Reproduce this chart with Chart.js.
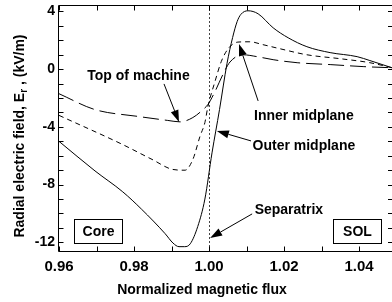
<!DOCTYPE html>
<html>
<head>
<meta charset="utf-8">
<script src="https://cdn.jsdelivr.net/npm/chart.js@4.4.0/dist/chart.umd.min.js"></script>
<style>
  html, body { margin: 0; padding: 0; background: #fff; }
  #wrap { width: 392px; height: 302px; }
</style>
</head>
<body>
<div id="wrap"><canvas id="chart" width="392" height="302"></canvas></div>
<script>
// Normalized magnetic flux vs radial electric field (kV/m)
const outerX = [0.960, 0.9696, 0.977, 0.982, 0.9883, 0.9904, 0.992, 0.9935, 0.995, 0.997, 0.9989, 1.0008, 1.0028, 1.0048, 1.0063, 1.0075, 1.0085, 1.0104, 1.0131, 1.0171, 1.0211, 1.0261, 1.0323, 1.0395, 1.0429, 1.0488];
const outerY = [-5.0, -7.05, -8.5, -9.7, -11.4, -12.05, -12.3, -12.3, -12.1, -10.9, -9.0, -5.8, -2.8, 0.4, 2.2, 3.3, 3.8, 4.05, 3.84, 2.87, 2.18, 1.56, 1.15, 0.87, 0.6, 0.1];

const innerX = [0.960, 0.9768, 0.9848, 0.9904, 0.9936, 0.9957, 0.9976, 0.9989, 0.9997, 1.0016, 1.0033, 1.0052, 1.0077, 1.0109, 1.0144, 1.0189, 1.0261, 1.0349, 1.0429, 1.0488];
const innerY = [-3.2, -5.2, -6.25, -6.95, -7.0, -6.25, -4.65, -3.7, -2.6, -0.85, 0.55, 1.45, 1.88, 1.9, 1.7, 1.42, 1.0, 0.73, 0.45, 0.1];

const topX = [0.960, 0.9696, 0.981, 0.989, 0.9923, 0.9957, 0.9984, 0.9997, 1.0016, 1.0037, 1.0056, 1.0091, 1.0128, 1.0171, 1.0235, 1.0323, 1.0411, 1.0488];
const topY = [-1.7, -2.8, -3.27, -3.55, -3.65, -3.35, -2.8, -2.45, -1.55, -0.37, 0.5, 1.0, 0.87, 0.66, 0.45, 0.32, 0.18, 0.1];

const xTickLabels = [0.96, 0.98, 1.00, 1.02, 1.04];
const yTickLabels = [-12, -8, -4, 0, 4];
const separatrix = 1.00;

// callouts: text, text position, arrow tail, arrow head (data units)
const calloutText = ["Top of machine", "Inner midplane", "Outer midplane", "Separatrix"];
const calloutPos  = [[0.9812, -0.5], [1.0253, -3.28], [1.0253, -5.32], [1.0213, -9.76]];
const arrowFrom   = [[0.988, -1.02], [1.0131, -2.2], [1.0112, -4.97], [1.0115, -10.03]];
const arrowTo     = [[0.992, -3.66], [1.008, 1.75], [1.0021, -4.28], [1.0003, -11.7]];

const boxText = ["Core", "SOL"];
const boxRange = [[0.964, 0.9768, -10.38, -12.04], [1.0331, 1.0459, -10.38, -12.04]];

const FONT = "'Liberation Sans', Arial, Helvetica, sans-serif";

const pts = (xs, ys) => xs.map((x, i) => ({ x: x, y: ys[i] }));

function drawArrow(ctx, x1, y1, x2, y2) {
  const a = Math.atan2(y2 - y1, x2 - x1);
  const len = 12, half = 4;
  const c = Math.cos(a), s = Math.sin(a);
  ctx.beginPath();
  ctx.moveTo(x1, y1);
  ctx.lineTo(x2 - c * len, y2 - s * len);
  ctx.stroke();
  ctx.beginPath();
  ctx.moveTo(x2, y2);
  ctx.lineTo(x2 - c * len + s * half, y2 - s * len - c * half);
  ctx.lineTo(x2 - c * len - s * half, y2 - s * len + c * half);
  ctx.closePath();
  ctx.fill();
}

const decor = {
  id: "decor",
  beforeDatasetsDraw(chart) {
    const { ctx, chartArea: ca, scales: { x } } = chart;
    const px = Math.round(x.getPixelForValue(separatrix)) + 0.5;
    ctx.save();
    ctx.strokeStyle = "#444";
    ctx.lineWidth = 1;
    ctx.setLineDash([2, 2]);
    ctx.beginPath();
    ctx.moveTo(px, ca.top);
    ctx.lineTo(px, ca.bottom);
    ctx.stroke();
    ctx.restore();
  },
  afterDatasetsDraw(chart) {
    const { ctx, chartArea: ca, scales: { x, y } } = chart;
    ctx.save();
    ctx.strokeStyle = "#000";
    ctx.fillStyle = "#000";
    ctx.lineWidth = 1;

    // frame (right edge falls just outside the picture)
    const L = ca.left - 0.5, T = ca.top + 0.5, B = ca.bottom + 0.5, R = ca.right;
    ctx.beginPath();
    ctx.moveTo(R, T); ctx.lineTo(L, T); ctx.lineTo(L, B); ctx.lineTo(R, B);
    ctx.stroke();

    // inward ticks
    const tl = 5;
    ctx.beginPath();
    for (let v = 0.96; v <= 1.0485; v += 0.01) {
      const p = Math.round(x.getPixelForValue(v)) + 0.5;
      ctx.moveTo(p, B); ctx.lineTo(p, B - tl);
      ctx.moveTo(p, T); ctx.lineTo(p, T + tl);
    }
    for (let v = -12; v <= 4; v++) {
      const p = Math.round(y.getPixelForValue(v)) + 0.5;
      ctx.moveTo(L, p); ctx.lineTo(L + tl, p);
      ctx.moveTo(R, p); ctx.lineTo(R - tl + 1, p);
    }
    ctx.stroke();

    // callouts
    ctx.font = "bold 14px " + FONT;
    ctx.textAlign = "center";
    ctx.textBaseline = "middle";
    calloutText.forEach((t, i) => {
      ctx.fillText(t, x.getPixelForValue(calloutPos[i][0]), y.getPixelForValue(calloutPos[i][1]));
      drawArrow(ctx,
        x.getPixelForValue(arrowFrom[i][0]), y.getPixelForValue(arrowFrom[i][1]),
        x.getPixelForValue(arrowTo[i][0]), y.getPixelForValue(arrowTo[i][1]));
    });

    // region boxes
    boxText.forEach((t, i) => {
      const [x0, x1, y0, y1] = boxRange[i];
      const a = Math.round(x.getPixelForValue(x0)) + 0.5, b = Math.round(x.getPixelForValue(x1)) + 0.5;
      const c = Math.round(y.getPixelForValue(y0)) + 0.5, d = Math.round(y.getPixelForValue(y1)) + 0.5;
      ctx.fillStyle = "#fff";
      ctx.fillRect(a, c, b - a, d - c);
      ctx.strokeRect(a, c, b - a, d - c);
      ctx.fillStyle = "#000";
      ctx.fillText(t, (a + b) / 2, (c + d) / 2 + 1);
    });

    // x title
    ctx.fillText("Normalized magnetic flux", 202, 290);

    // y title with subscript r
    ctx.translate(20, 136);
    ctx.rotate(-Math.PI / 2);
    const p1 = "Radial electric field, E", p3 = " , (kV/m)";
    ctx.font = "bold 14px " + FONT;
    const w1 = ctx.measureText(p1).width, w3 = ctx.measureText(p3).width;
    ctx.font = "bold 10px " + FONT;
    const w2 = ctx.measureText("r").width;
    let sx = -(w1 + w2 + w3) / 2;
    ctx.textAlign = "left";
    ctx.font = "bold 14px " + FONT;
    ctx.fillText(p1, sx, 0);
    ctx.font = "bold 10px " + FONT;
    ctx.fillText("r", sx + w1, 4);
    ctx.font = "bold 14px " + FONT;
    ctx.fillText(p3, sx + w1 + w2, 0);
    ctx.restore();
  }
};

const line = (data, dash) => ({
  data: data,
  borderColor: "#000",
  borderWidth: 1,
  borderDash: dash,
  pointRadius: 0,
  fill: false,
  cubicInterpolationMode: "monotone"
});

new Chart(document.getElementById("chart"), {
  type: "line",
  data: {
    datasets: [
      line(pts(outerX, outerY), []),
      line(pts(innerX, innerY), [5, 4]),
      line(pts(topX, topY), [16, 6])
    ]
  },
  options: {
    responsive: false,
    animation: false,
    layout: { padding: { top: 5, right: 0, left: 0, bottom: 0 } },
    plugins: { legend: { display: false }, tooltip: { enabled: false } },
    scales: {
      x: {
        type: "linear",
        min: 0.96,
        max: 1.0488,
        grid: { display: false, drawTicks: false },
        border: { display: false },
        ticks: {
          color: "#000",
          font: { family: FONT, size: 15, weight: "bold" },
          padding: 7,
          maxRotation: 0,
          autoSkip: false,
          callback: (v) => v.toFixed(2)
        },
        afterBuildTicks: (s) => { s.ticks = xTickLabels.map((v) => ({ value: v })); },
        afterFit: (s) => { s.height = 51; s.paddingLeft = 0; s.paddingRight = 0; s.paddingTop = 0; s.paddingBottom = 0; }
      },
      y: {
        type: "linear",
        min: -12.6,
        max: 4.45,
        grid: { display: false, drawTicks: false },
        border: { display: false },
        ticks: {
          color: "#000",
          font: { family: FONT, size: 14, weight: "bold" },
          padding: 4,
          autoSkip: false,
          callback: (v) => String(v)
        },
        afterBuildTicks: (s) => { s.ticks = yTickLabels.map((v) => ({ value: v })); },
        afterFit: (s) => { s.width = 59; s.paddingLeft = 0; s.paddingRight = 0; s.paddingTop = 0; s.paddingBottom = 0; }
      }
    }
  },
  plugins: [decor]
});
</script>
</body>
</html>
